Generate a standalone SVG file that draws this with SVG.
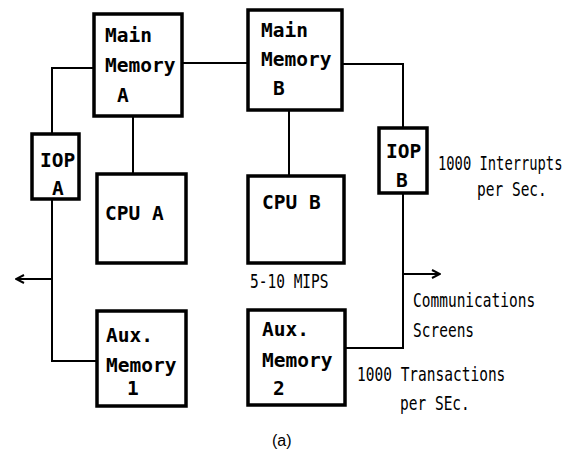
<svg xmlns="http://www.w3.org/2000/svg" width="577" height="459" viewBox="0 0 577 459">
<defs>
<style>
.box{fill:#fff;stroke:#000;stroke-width:3.5}
.ln{fill:none;stroke:#000;stroke-width:2}
.b{font-family:"DejaVu Sans Mono","Liberation Mono",monospace;font-weight:bold;font-size:19.5px;fill:#000}
.s{font-family:"DejaVu Sans Mono","Liberation Mono",monospace;font-size:14.5px;fill:#000}
.cap{font-family:"Liberation Sans",Arial,sans-serif;font-size:16px;fill:#000}
</style>
<marker id="ah" viewBox="0 0 10 10" refX="9" refY="5" markerWidth="10" markerHeight="10" markerUnits="userSpaceOnUse" orient="auto">
<path d="M1,1 L9,5 L1,9" fill="none" stroke="#000" stroke-width="2"/>
</marker>
</defs>
<rect width="577" height="459" fill="#fff"/>
<g id="connectors">
<line class="ln" x1="182" y1="63" x2="247" y2="63"/>
<polyline class="ln" points="93,68 52,68 52,133"/>
<polyline class="ln" points="52,199 52,361 96,361"/>
<line class="ln" x1="52" y1="279" x2="16" y2="279" marker-end="url(#ah)"/>
<line class="ln" x1="133" y1="116" x2="133" y2="173"/>
<line class="ln" x1="289" y1="110" x2="289" y2="175"/>
<polyline class="ln" points="342,64 403,64 403,127"/>
<polyline class="ln" points="403,193 403,348 345,348"/>
<line class="ln" x1="403" y1="274" x2="440" y2="274" marker-end="url(#ah)"/>
</g>
<g id="mainA">
<rect class="box" x="94" y="14" width="88" height="102"/>
<text class="b" x="105" y="42">Main</text>
<text class="b" x="105" y="72">Memory</text>
<text class="b" x="117" y="102">A</text>
</g>
<g id="mainB">
<rect class="box" x="248" y="10" width="94" height="100"/>
<text class="b" x="261" y="37">Main</text>
<text class="b" x="261" y="66">Memory</text>
<text class="b" x="273" y="95">B</text>
</g>
<g id="iopA">
<rect class="box" x="32" y="134" width="47" height="65"/>
<text class="b" x="40" y="167">IOP</text>
<text class="b" x="52" y="195">A</text>
</g>
<g id="iopB">
<rect class="box" x="379" y="128" width="48" height="65"/>
<text class="b" x="386" y="158">IOP</text>
<text class="b" x="396" y="187">B</text>
</g>
<g id="cpuA">
<rect class="box" x="97" y="174" width="89" height="89"/>
<text class="b" x="105" y="220">CPU A</text>
</g>
<g id="cpuB">
<rect class="box" x="248" y="176" width="96" height="87"/>
<text class="b" x="262" y="209">CPU B</text>
</g>
<g id="aux1">
<rect class="box" x="97" y="311" width="89" height="95"/>
<text class="b" x="106" y="342">Aux.</text>
<text class="b" x="106" y="372">Memory</text>
<text class="b" x="127" y="395">1</text>
</g>
<g id="aux2">
<rect class="box" x="248" y="310" width="97" height="95"/>
<text class="b" x="262" y="336">Aux.</text>
<text class="b" x="262" y="367">Memory</text>
<text class="b" x="273" y="395">2</text>
</g>
<g id="labels">
<text class="s" transform="translate(250,288) scale(1,1.35)">5-10 MIPS</text>
<text class="s" style="font-size:13.8px" transform="translate(438,170) scale(1,1.4)">1000 Interrupts</text>
<text class="s" transform="translate(477,196) scale(1,1.35)">per Sec.</text>
<text class="s" transform="translate(413,307) scale(1,1.35)">Communications</text>
<text class="s" transform="translate(413,337) scale(1,1.35)">Screens</text>
<text class="s" transform="translate(357,381) scale(1,1.35)">1000 Transactions</text>
<text class="s" transform="translate(400,410) scale(1,1.35)">per SEc.</text>
<text class="cap" x="272" y="446">(a)</text>
</g>
</svg>
